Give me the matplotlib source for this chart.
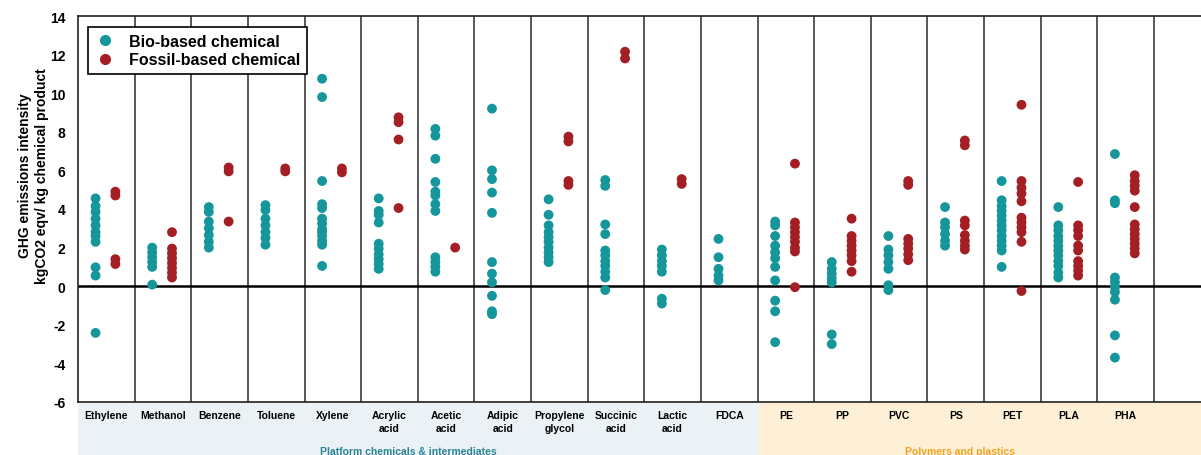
import matplotlib
matplotlib.use("Agg")
import matplotlib.pyplot as plt
from matplotlib.patches import Rectangle
from matplotlib.lines import Line2D

plt.rcParams['font.family'] = ['Liberation Sans', 'DejaVu Sans']

categories = ["Ethylene", "Methanol", "Benzene", "Toluene", "Xylene",
              "Acrylic\nacid", "Acetic\nacid", "Adipic\nacid", "Propylene\nglycol",
              "Succinic\nacid", "Lactic\nacid", "FDCA",
              "PE", "PP", "PVC", "PS", "PET", "PLA", "PHA"]

# GHG emissions intensity (kgCO2 eqv / kg product), bio-based routes
bio_values = [
    [4.55, 4.15, 3.85, 3.5, 3.15, 2.8, 2.6, 2.3, 0.98, 0.55, -2.42],
    [2.0, 1.75, 1.5, 1.25, 1.0, 0.08],
    [4.1, 3.85, 3.35, 3.0, 2.65, 2.3, 2.0],
    [4.2, 3.95, 3.5, 3.15, 2.8, 2.5, 2.15],
    [10.75, 9.8, 5.45, 4.25, 4.05, 3.5, 3.25, 2.95, 2.8, 2.6, 2.35, 2.15, 1.05],
    [4.55, 3.9, 3.7, 3.3, 2.2, 1.95, 1.65, 1.4, 1.15, 0.9],
    [8.15, 7.8, 6.6, 5.4, 4.9, 4.7, 4.25, 3.9, 1.5, 1.25, 1.0, 0.75],
    [9.2, 6.0, 5.55, 4.85, 3.8, 1.25, 0.65, 0.2, -0.5, -1.3, -1.45],
    [4.5, 3.7, 3.15, 2.8, 2.55, 2.3, 2.0, 1.75, 1.5, 1.25],
    [5.5, 5.2, 3.2, 2.7, 1.85, 1.6, 1.3, 1.05, 0.75, 0.45, -0.2],
    [1.9, 1.6, 1.3, 1.05, 0.75, -0.65, -0.9],
    [2.45, 1.5, 0.9, 0.55, 0.3],
    [3.35, 3.15, 2.6, 2.1, 1.75, 1.45, 1.0, 0.3, -0.75, -1.3, -2.9],
    [1.25, 0.9, 0.65, 0.4, 0.2, -2.5, -3.0],
    [2.6, 1.9, 1.6, 1.25, 0.9, 0.05, -0.2],
    [4.1, 3.3, 3.05, 2.7, 2.35, 2.1],
    [5.45, 4.45, 4.15, 3.9, 3.65, 3.4, 3.15, 2.9, 2.6, 2.35, 2.1, 1.85, 1.0],
    [4.1, 3.15, 2.9, 2.6, 2.35, 2.1, 1.85, 1.6, 1.3, 1.05, 0.7, 0.45],
    [6.85, 4.45, 4.3, 0.45, 0.2, -0.05, -0.3, -0.7, -2.55, -3.7],
]

# GHG emissions intensity, fossil-based routes
fossil_values = [
    [4.9, 4.7, 1.4, 1.15],
    [2.8, 1.95, 1.7, 1.45, 1.2, 0.95, 0.7, 0.45],
    [6.15, 5.95, 3.35],
    [6.1, 5.95],
    [6.1, 5.9],
    [8.75, 8.5, 7.6, 4.05],
    [2.0],
    [],
    [7.75, 7.5, 5.45, 5.25],
    [12.15, 11.8],
    [5.55, 5.3],
    [],
    [6.35, 3.3, 3.05, 2.8, 2.55, 2.3, 2.0, 1.8, -0.05],
    [3.5, 2.6, 2.35, 2.1, 1.85, 1.6, 1.3, 0.75],
    [5.45, 5.25, 2.45, 2.2, 1.95, 1.65, 1.35],
    [7.55, 7.3, 3.4, 3.15, 2.65, 2.35, 2.1, 1.9],
    [9.4, 5.45, 5.1, 4.8, 4.4, 3.55, 3.3, 3.05, 2.8, 2.3, -0.25],
    [5.4, 3.15, 2.9, 2.6, 2.1, 1.85, 1.3, 1.05, 0.8, 0.55],
    [5.75, 5.45, 5.2, 4.95, 4.1, 3.2, 2.95, 2.7, 2.45, 2.2, 1.95, 1.7],
]

y_ticks = list(range(-6, 15, 2))
group_labels = ["Platform chemicals & intermediates", "Polymers and plastics"]

BIO = "#14969a"
FOSSIL = "#a31f24"

W, H = 1201, 456
fig = plt.figure(figsize=(W / 100, H / 100), dpi=100)

ax_left, ax_bottom, ax_top = 78, 403, 17
col_w = (1154 - 78) / 19
n_cols = len(categories) + 1
ax = fig.add_axes([ax_left / W, (H - ax_bottom) / H,
                   n_cols * col_w / W, (ax_bottom - ax_top) / H])

# shaded band behind the category labels
fig.patches.append(Rectangle((ax_left / W, 0), (759 - ax_left) / W, (H - ax_bottom) / H,
                             transform=fig.transFigure, facecolor="#eaf2f5",
                             edgecolor="none", zorder=-10))
fig.patches.append(Rectangle((759 / W, 0), (W - 759) / W, (H - ax_bottom) / H,
                             transform=fig.transFigure, facecolor="#fdf0d7",
                             edgecolor="none", zorder=-10))

for i, (b, f) in enumerate(zip(bio_values, fossil_values)):
    if b:
        ax.scatter([i + 0.31] * len(b), b, s=50, color=BIO, edgecolors="none", zorder=3)
    if f:
        ax.scatter([i + 0.66] * len(f), f, s=50, color=FOSSIL, edgecolors="none", zorder=3)

for x in range(1, n_cols):
    ax.axvline(x, color="#3a3a3a", lw=1.2, zorder=1)
ax.axhline(0, color="black", lw=1.8, zorder=2)

ax.set_xlim(0, n_cols)
ax.set_ylim(-6, 14)
ax.set_yticks(y_ticks)
ax.set_yticklabels([str(t) for t in y_ticks], fontsize=10, fontweight="bold")
ax.set_xticks([i + 0.5 for i in range(len(categories))])
ax.set_xticklabels(categories, fontsize=7.5, fontweight="bold", linespacing=1.35)
ax.tick_params(axis="both", length=0)
ax.tick_params(axis="y", pad=9)
ax.tick_params(axis="x", pad=6)
for s in ax.spines.values():
    s.set_color("#222222")
    s.set_linewidth(1.2)

handles = [Line2D([], [], marker="o", linestyle="none", markersize=7, color=BIO),
           Line2D([], [], marker="o", linestyle="none", markersize=7, color=FOSSIL)]
leg = ax.legend(handles, ["Bio-based chemical", "Fossil-based chemical"],
                loc="upper left", bbox_to_anchor=(0.009, 0.972), borderaxespad=0,
                fancybox=False, framealpha=1, edgecolor="black",
                prop={"size": 11.5, "weight": "bold"},
                handletextpad=0.9, labelspacing=0.2, borderpad=0.45, handlelength=1.2)
leg.get_frame().set_linewidth(1.2)

fig.text(33.5 / W, 1 - 176 / H, "GHG emissions intensity\nkgCO2 eqv/ kg chemical product",
         rotation=90, ha="center", va="center", multialignment="center",
         fontsize=10, fontweight="bold", linespacing=1.2)

fig.text(408 / W, 9 / H, group_labels[0], ha="center", va="top",
         fontsize=7.5, fontweight="bold", color="#2b8596")
fig.text(960 / W, 9 / H, group_labels[1], ha="center", va="top",
         fontsize=7.5, fontweight="bold", color="#f0a521")

fig.savefig("out.png", dpi=100)
